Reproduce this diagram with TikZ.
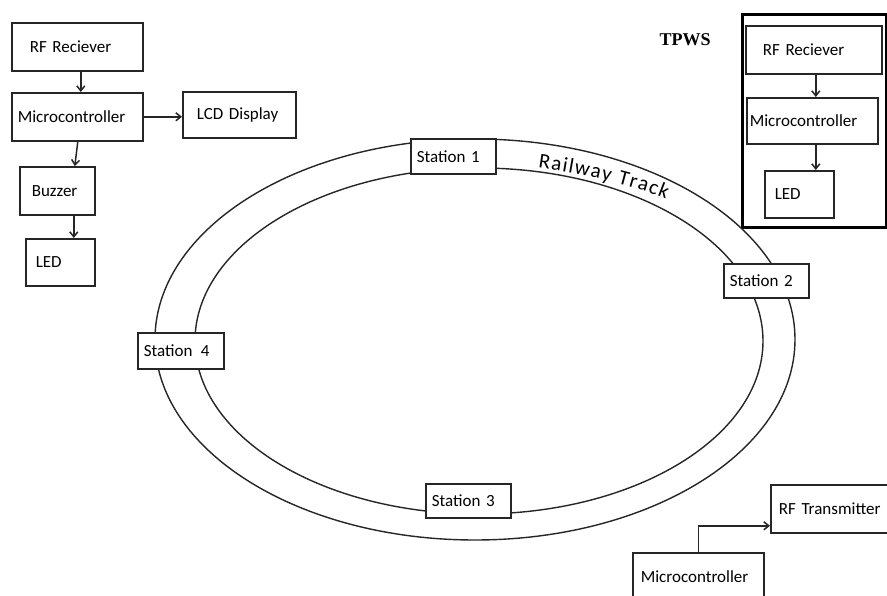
\documentclass[tikz,border=0pt]{standalone}
\usepackage{fontspec}
\newfontfamily\carlito{Carlito}
\newfontfamily\tpwsfont{Liberation Serif}
\usetikzlibrary{arrows.meta,decorations.text,calc}
\begin{document}
\begin{tikzpicture}[x=1pt,y=-1pt,
  blk/.style={draw=black!85, line width=1.6pt, fill=white,
    font=\carlito\fontsize{17}{20}\selectfont, align=left,
    inner xsep=0pt, inner ysep=0pt, anchor=north west},
  stn/.style={blk, font=\carlito\fontsize{17}{20}\selectfont},
  arr/.style={draw=black!85, line width=1.5pt, -{Straight Barb[length=5pt,width=8pt]}},
  trk/.style={draw=black!85, line width=1.4pt}]
\useasboundingbox (0,0) rectangle (887,596);
\clip (0,0) rectangle (887,596);

% left chain
\node[blk, minimum width=131, minimum height=48, text width=95] (rf1) at (11,22) {RF Reciever};
\node[blk, minimum width=131, minimum height=48, text width=119] (mc1) at (11,92) {Microcontroller};
\node[blk, minimum width=113, minimum height=46, text width=85] (lcd) at (182,91) {LCD Display};
\node[blk, minimum width=75, minimum height=48, text width=51] (buz) at (19,166) {Buzzer};
\node[blk, minimum width=69, minimum height=47, text width=49] (led1) at (25,238) {LED};
\draw[arr] ([xshift=3.5pt]rf1.south) -- ([xshift=3.5pt]mc1.north);
\draw[arr] (mc1.east) -- (mc1.east -| lcd.west);
\draw[arr] ([xshift=0.5pt]mc1.south) -- ([xshift=17.5pt]buz.north);
\draw[arr] ([xshift=16.5pt]buz.south) -- ([xshift=13.5pt]led1.north);

% TPWS
\node[font=\tpwsfont\bfseries\fontsize{18}{20}\selectfont] (tpws) at (685,40) {TPWS};
\node[draw=black, line width=3pt, minimum width=144, minimum height=213, anchor=north west, inner sep=0pt] (frame) at (741,13) {};
\node[blk, minimum width=136, minimum height=48, text width=102] (rf2) at (745,25) {RF Reciever};
\node[blk, minimum width=131, minimum height=46, text width=125] (mc2) at (746,97) {Microcontroller};
\node[blk, minimum width=69, minimum height=47, text width=49] (led2) at (764,170) {LED};
\draw[arr] ([xshift=2pt]rf2.south) -- ([xshift=3.5pt]mc2.north);
\draw[arr] ([xshift=3.5pt]mc2.south) -- ([xshift=16.5pt]led2.north);

% railway track
\draw[trk] (475,339.5) ellipse [x radius=320, y radius=200.5];
\draw[trk] (479,341) ellipse [x radius=284, y radius=173];
\path[decorate, decoration={text along path,
  text={|\carlito\fontsize{21}{21}\selectfont|Railway Track},
  text align={fit to path}}]
  (538,168) .. controls (579,174) and (624,182) .. (666,199);

% stations
\node[stn, minimum width=85, minimum height=35, text width=73] (st1) at (410,138) {Station 1};
\node[stn, minimum width=85, minimum height=34, text width=73] (st2) at (723,263) {Station 2};
\node[stn, minimum width=85, minimum height=34, text width=73] (st3) at (425,483) {Station 3};
\node[stn, minimum width=86, minimum height=36, text width=74] (st4) at (137,332) {Station\enspace 4};

% bottom right
\node[blk, minimum width=120, minimum height=48, text width=104] (rft) at (770,484) {RF Transmitter};
\node[blk, minimum width=131, minimum height=48, text width=115] (mc3) at (632,552) {Microcontroller};
\draw[arr] (mc3.north) |- ([yshift=-17pt]rft.west);
\end{tikzpicture}
\end{document}
